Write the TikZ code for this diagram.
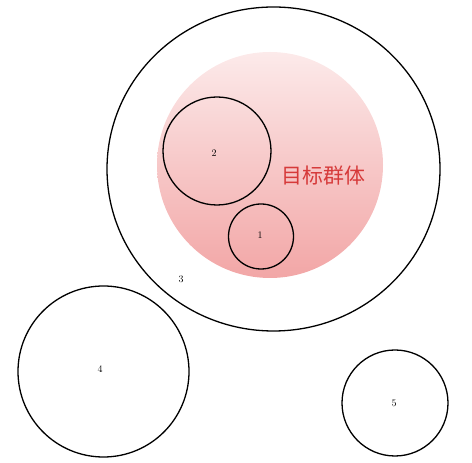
\documentclass[tikz,border=0pt]{standalone}
\usepackage{fontspec}
\newfontfamily\cjk{Noto Sans CJK SC}
\definecolor{groupred}{RGB}{214,58,58}
\definecolor{pinktop}{RGB}{252,234,234}
\definecolor{pinkbottom}{RGB}{242,166,166}
\begin{document}
\begin{tikzpicture}[x=1bp,y=1bp,ring/.style={line width=1.3bp}]
        \useasboundingbox (0,0) rectangle (472,463);
        %% population
        \draw[ring] (273.5,294) ellipse (166.5 and 162);
        \node (n3) at (181,184) {3};
        %% target group
        \shade[top color=pinktop,bottom color=pinkbottom] (270,298) circle (113);
        \node[text=groupred,font=\cjk\fontsize{21}{24}\selectfont] (group) at (323.5,287) {目标群体};
        %% samples
        \draw[ring] (217,312) circle (54);
        \node (n2) at (214,310) {2};
        \draw[ring] (261,226.5) circle (32.5);
        \node (n1) at (260,228) {1};
        %% outside
        \draw[ring] (103.5,91.5) circle (85.5);
        \node (n4) at (100,94) {4};
        \draw[ring] (395,60) circle (53);
        \node (n5) at (394,60) {5};
    \end{tikzpicture}
\end{document}
